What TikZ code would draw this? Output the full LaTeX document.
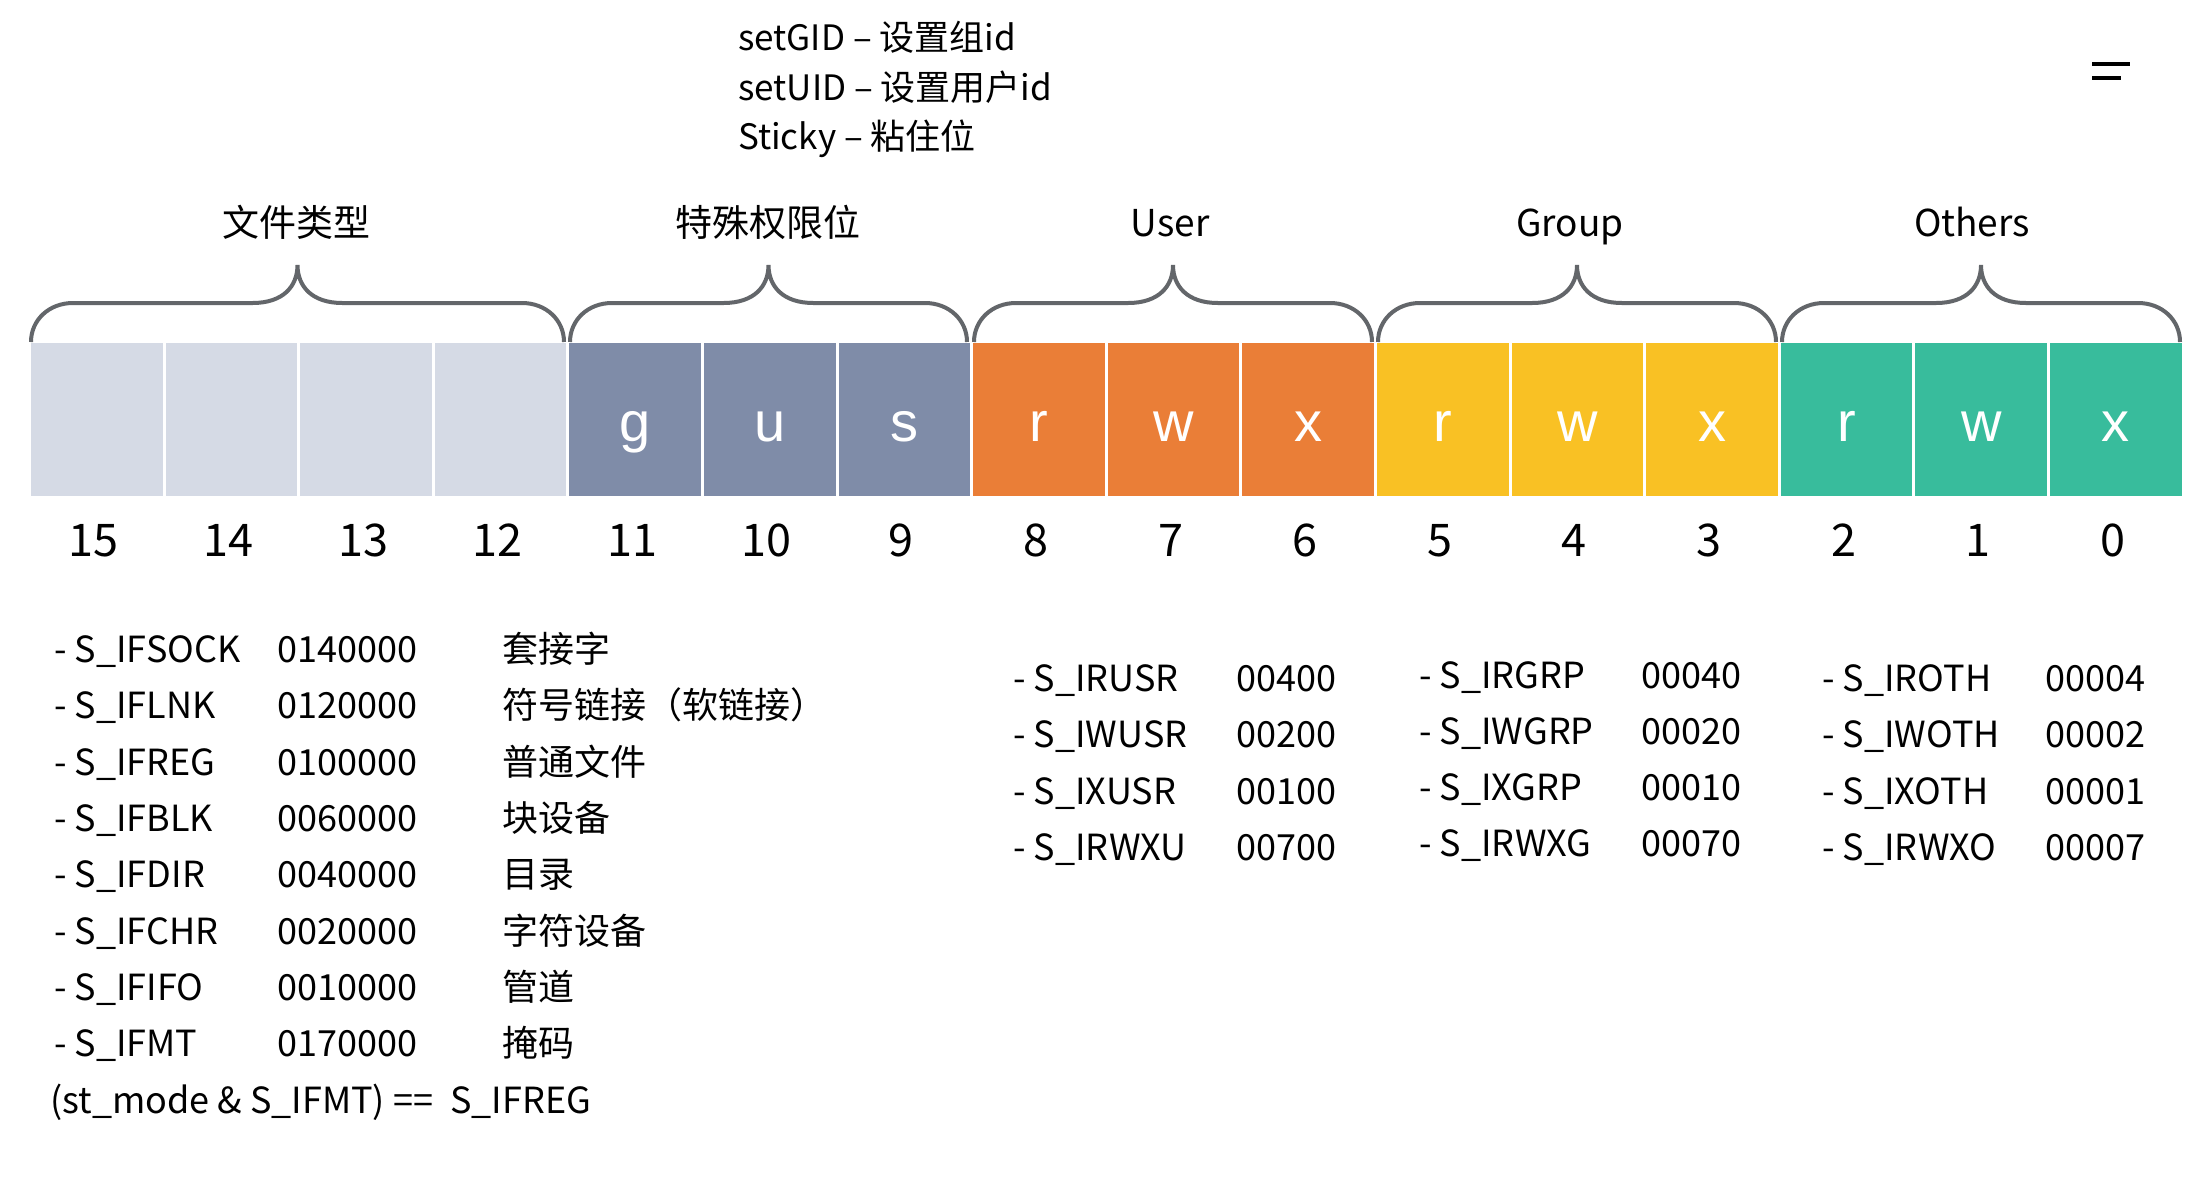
\documentclass[tikz,border=0pt]{standalone}
\usepackage{fontspec}
\setmainfont{Noto Sans CJK SC}
\newfontfamily\cellfont{Liberation Sans}
\definecolor{clight}{HTML}{D5DAE5}
\definecolor{cslate}{HTML}{7F8CA8}
\definecolor{corange}{HTML}{EA7E37}
\definecolor{cyellow}{HTML}{F9C124}
\definecolor{cteal}{HTML}{38BC9C}
\definecolor{cbrace}{HTML}{63666A}
\tikzset{
  cellbox/.style={draw=none, inner sep=0, minimum width=131.6pt, minimum height=153.5pt},
  celltxt/.style={anchor=base, inner sep=0, text=white, font=\cellfont\fontsize{56}{60}\selectfont},
  numtxt/.style={anchor=base, inner sep=0, font=\fontsize{45}{50}\selectfont},
  grouptxt/.style={anchor=base, inner sep=0, font=\fontsize{37}{42}\selectfont},
  toptxt/.style={anchor=base west, inner sep=0, font=\fontsize{35}{40}\selectfont},
  listtxt/.style={anchor=base west, inner sep=0, font=\fontsize{36}{40}\selectfont},
  bracestyle/.style={draw=cbrace, line width=4pt, line cap=butt},
  markline/.style={draw=black, line width=4pt}
}
\begin{document}
\begin{tikzpicture}[x=1pt,y=-1pt]
\useasboundingbox (0,0) rectangle (2203,1194);
\fill[white] (0,0) rectangle (2203,1194);

% top text
\node[toptxt] (tgid) at (738,50) {setGID – 设置组id};
\node[toptxt] (tuid) at (738,100) {setUID – 设置用户id};
\node[toptxt] (tsticky) at (738,149) {Sticky – 粘住位};

% stray mark top right
\draw[markline] (2092,64) -- (2130,64);
\draw[markline, line width=3.5pt] (2092,78) -- (2121,78);

% cells
\foreach \i/\col in {0/clight,1/clight,2/clight,3/clight,4/cslate,5/cslate,6/cslate,7/corange,8/corange,9/corange,10/cyellow,11/cyellow,12/cyellow,13/cteal,14/cteal,15/cteal}{
  \pgfmathsetmacro\cx{29.5+(\i+0.5)*134.6}
  \pgfmathtruncatemacro\b{15-\i}
  \node[cellbox, fill=\col] (cell\b) at (\cx,419.25) {};
  \node[numtxt] (num\b) at (\cx-3,556) {\b};
}
\foreach \i/\t in {4/g,5/u,6/s,7/r,8/w,9/x,10/r,11/w,12/x,13/r,14/w,15/x}{
  \pgfmathsetmacro\cx{29.5+(\i+0.5)*134.6}
  \pgfmathtruncatemacro\b{15-\i}
  \node[celltxt] (let\b) at (\cx,441) {\t};
}

% braces
\foreach \L/\R in {31/564, 570/967, 974/1372, 1378/1776, 1782/2180}{
  \pgfmathsetmacro\C{(\L+\R)/2}
  \draw[bracestyle] (\L,342) .. controls (\L,320) and ({\L+18},303) .. ({\L+42},303)
     -- ({\C-45},303) .. controls ({\C-14},303) and (\C,286) .. (\C,265)
     .. controls (\C,286) and ({\C+14},303) .. ({\C+45},303)
     -- ({\R-42},303) .. controls ({\R-18},303) and (\R,320) .. (\R,342);
}

% group labels
\node[grouptxt] (gtype) at (296,236) {文件类型};
\node[grouptxt] (gspec) at (768,236) {特殊权限位};
\node[grouptxt] (guser) at (1170,236) {User};
\node[grouptxt] (ggroup) at (1570,236) {Group};
\node[grouptxt] (gothers) at (1972,236) {Others};

% file type list
\foreach \nm/\val/\desc [count=\n from 0] in {S\_IFSOCK/0140000/套接字, S\_IFLNK/0120000/符号链接（软链接）, S\_IFREG/0100000/普通文件, S\_IFBLK/0060000/块设备, S\_IFDIR/0040000/目录, S\_IFCHR/0020000/字符设备, S\_IFIFO/0010000/管道, S\_IFMT/0170000/掩码}{
  \pgfmathsetmacro\yy{662.5+\n*56.3}
  \node[listtxt] (fn\n) at (54,\yy) {- \nm};
  \node[listtxt] (fv\n) at (277,\yy) {\val};
  \node[listtxt] (fd\n) at (502,\yy) {\desc};
}
\node[listtxt] (expr) at (50,1113) {(st\_mode \& S\_IFMT) ==};
\node[listtxt] (exprv) at (450,1113) {S\_IFREG};

% user list
\foreach \nm/\val [count=\n from 0] in {S\_IRUSR/00400, S\_IWUSR/00200, S\_IXUSR/00100, S\_IRWXU/00700}{
  \pgfmathsetmacro\yy{691.5+\n*56.3}
  \node[listtxt] (un\n) at (1013,\yy) {- \nm};
  \node[listtxt] (uv\n) at (1236,\yy) {\val};
}
% group list
\foreach \nm/\val [count=\n from 0] in {S\_IRGRP/00040, S\_IWGRP/00020, S\_IXGRP/00010, S\_IRWXG/00070}{
  \pgfmathsetmacro\yy{688+\n*56.3}
  \node[listtxt] (gn\n) at (1419,\yy) {- \nm};
  \node[listtxt] (gv\n) at (1641,\yy) {\val};
}
% others list
\foreach \nm/\val [count=\n from 0] in {S\_IROTH/00004, S\_IWOTH/00002, S\_IXOTH/00001, S\_IRWXO/00007}{
  \pgfmathsetmacro\yy{691.5+\n*56.3}
  \node[listtxt] (on\n) at (1822,\yy) {- \nm};
  \node[listtxt] (ov\n) at (2045,\yy) {\val};
}
\end{tikzpicture}
\end{document}
